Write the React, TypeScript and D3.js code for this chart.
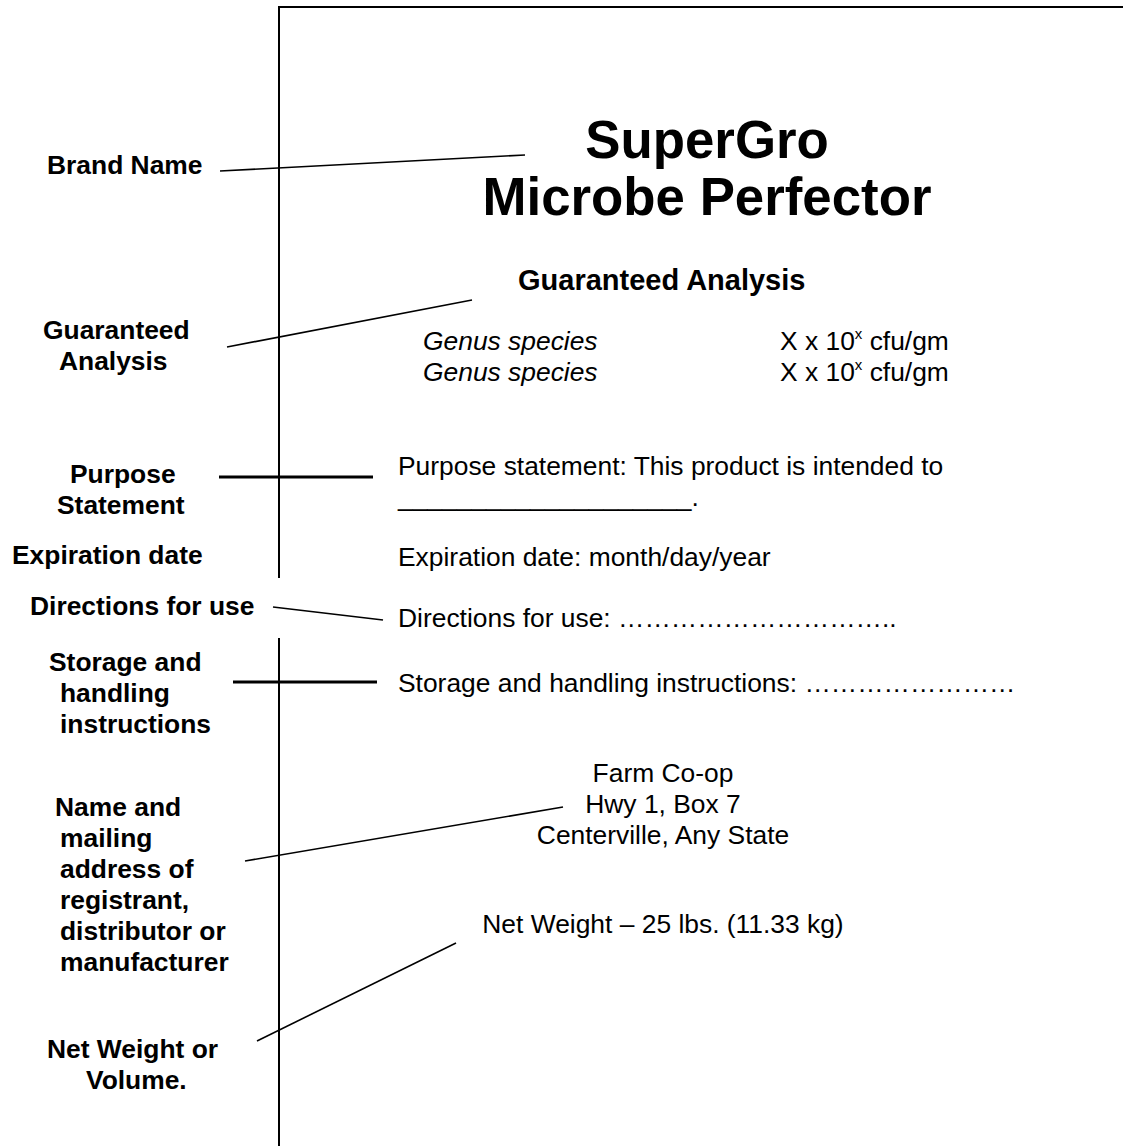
import React, { useEffect, useRef } from 'react';
import * as d3 from 'd3';

// text content of the label sketch
const titleLines = ['SuperGro', 'Microbe Perfector'];
const analysisHeading = 'Guaranteed Analysis';
const organisms = ['Genus species', 'Genus species'];
const countMantissa = ['X x 10', 'X x 10'];
const countExponent = ['x', 'x'];
const countUnit = [' cfu/gm', ' cfu/gm'];
const statementLines = [
  'Purpose statement: This product is intended to',
  '____________________.',
  'Expiration date: month/day/year',
  'Directions for use: …………………………..',
  'Storage and handling instructions: ……………………',
];
const addressLines = ['Farm Co-op', 'Hwy 1, Box 7', 'Centerville, Any State'];
const netWeight = 'Net Weight – 25 lbs. (11.33 kg)';
const calloutLabels = [
  ['Brand Name'],
  ['Guaranteed', 'Analysis'],
  ['Purpose', 'Statement'],
  ['Expiration date'],
  ['Directions for use'],
  ['Storage and', 'handling', 'instructions'],
  ['Name and', 'mailing', 'address of', 'registrant,', 'distributor or', 'manufacturer'],
  ['Net Weight or', 'Volume.'],
];

// layout (page pixels)
const W = 1123;
const H = 1146;
const FONT = '"Liberation Sans", Arial, Helvetica, sans-serif';
const labelX = [[47], [43, 59], [70, 57], [12], [30], [49, 60, 60], [55, 60, 60, 60, 60, 60], [47, 86]];
const labelY = [174, 339, 483, 564, 615, 671, 816, 1058];
const leaders = [
  { x1: 220, y1: 171, x2: 525, y2: 155, w: 1.6 },
  { x1: 227, y1: 347, x2: 472, y2: 300, w: 1.6 },
  { x1: 219, y1: 477, x2: 373, y2: 477, w: 2.8 },
  { x1: 273, y1: 607, x2: 383, y2: 620, w: 1.6 },
  { x1: 233, y1: 682, x2: 377, y2: 682, w: 2.8 },
  { x1: 245, y1: 861, x2: 563, y2: 807, w: 1.6 },
  { x1: 257, y1: 1041, x2: 456, y2: 943, w: 1.6 },
];
const statementY = [475, 506, 566, 627, 692];

const App = () => {
  const svgRef = useRef<SVGSVGElement>(null);

  useEffect(() => {
    const svg = d3.select(svgRef.current)
      .attr('width', W)
      .attr('height', H)
      .style('font-family', FONT);
    svg.selectAll('*').remove();

    const lineH = 31;

    // page border: top edge and left edge with a gap
    svg.append('line')
      .attr('x1', 279).attr('y1', 7).attr('x2', W).attr('y2', 7)
      .attr('stroke', '#000').attr('stroke-width', 2);
    svg.append('line')
      .attr('x1', 279).attr('y1', 6).attr('x2', 279).attr('y2', 578)
      .attr('stroke', '#000').attr('stroke-width', 2);
    svg.append('line')
      .attr('x1', 279).attr('y1', 638).attr('x2', 279).attr('y2', H)
      .attr('stroke', '#000').attr('stroke-width', 2);

    // callout leader lines
    svg.append('g').selectAll('line')
      .data(leaders)
      .join('line')
      .attr('x1', d => d.x1).attr('y1', d => d.y1)
      .attr('x2', d => d.x2).attr('y2', d => d.y2)
      .attr('stroke', '#000')
      .attr('stroke-width', d => d.w);

    // callout labels on the left
    const labels = svg.append('g')
      .style('font-size', '26.4px')
      .style('font-weight', 'bold');
    calloutLabels.forEach((lines, i) => {
      lines.forEach((t, j) => {
        labels.append('text')
          .attr('x', labelX[i][j])
          .attr('y', labelY[i] + j * lineH)
          .text(t);
      });
    });

    // brand name
    svg.append('g').selectAll('text')
      .data(titleLines)
      .join('text')
      .attr('x', 707)
      .attr('y', (d, i) => 158 + i * 57)
      .attr('text-anchor', 'middle')
      .style('font-size', '52.8px')
      .style('font-weight', 'bold')
      .text(d => d);

    svg.append('text')
      .attr('x', 518)
      .attr('y', 290)
      .style('font-size', '29px')
      .style('font-weight', 'bold')
      .text(analysisHeading);

    // guaranteed analysis rows
    const rows = svg.append('g').style('font-size', '26.4px');
    organisms.forEach((o, i) => {
      const y = 350 + i * lineH;
      rows.append('text')
        .attr('x', 423).attr('y', y)
        .style('font-style', 'italic')
        .text(o);
      const t = rows.append('text').attr('x', 780).attr('y', y);
      t.append('tspan').text(countMantissa[i]);
      t.append('tspan')
        .attr('dy', -11)
        .style('font-size', '15px')
        .text(countExponent[i]);
      t.append('tspan')
        .attr('dy', 11)
        .text(countUnit[i]);
    });

    // statements
    svg.append('g').selectAll('text')
      .data(statementLines)
      .join('text')
      .attr('x', 398)
      .attr('y', (d, i) => statementY[i])
      .style('font-size', '26.4px')
      .text(d => d);

    // address block
    svg.append('g').selectAll('text')
      .data(addressLines)
      .join('text')
      .attr('x', 663)
      .attr('y', (d, i) => 782 + i * lineH)
      .attr('text-anchor', 'middle')
      .style('font-size', '26.4px')
      .text(d => d);

    svg.append('text')
      .attr('x', 663)
      .attr('y', 933)
      .attr('text-anchor', 'middle')
      .style('font-size', '26.4px')
      .text(netWeight);
  }, []);

  return (
    <div style={{ position: 'absolute', left: 0, top: 0, background: '#fff' }}>
      <svg ref={svgRef} style={{ display: 'block' }}></svg>
    </div>
  );
};

export default App;
